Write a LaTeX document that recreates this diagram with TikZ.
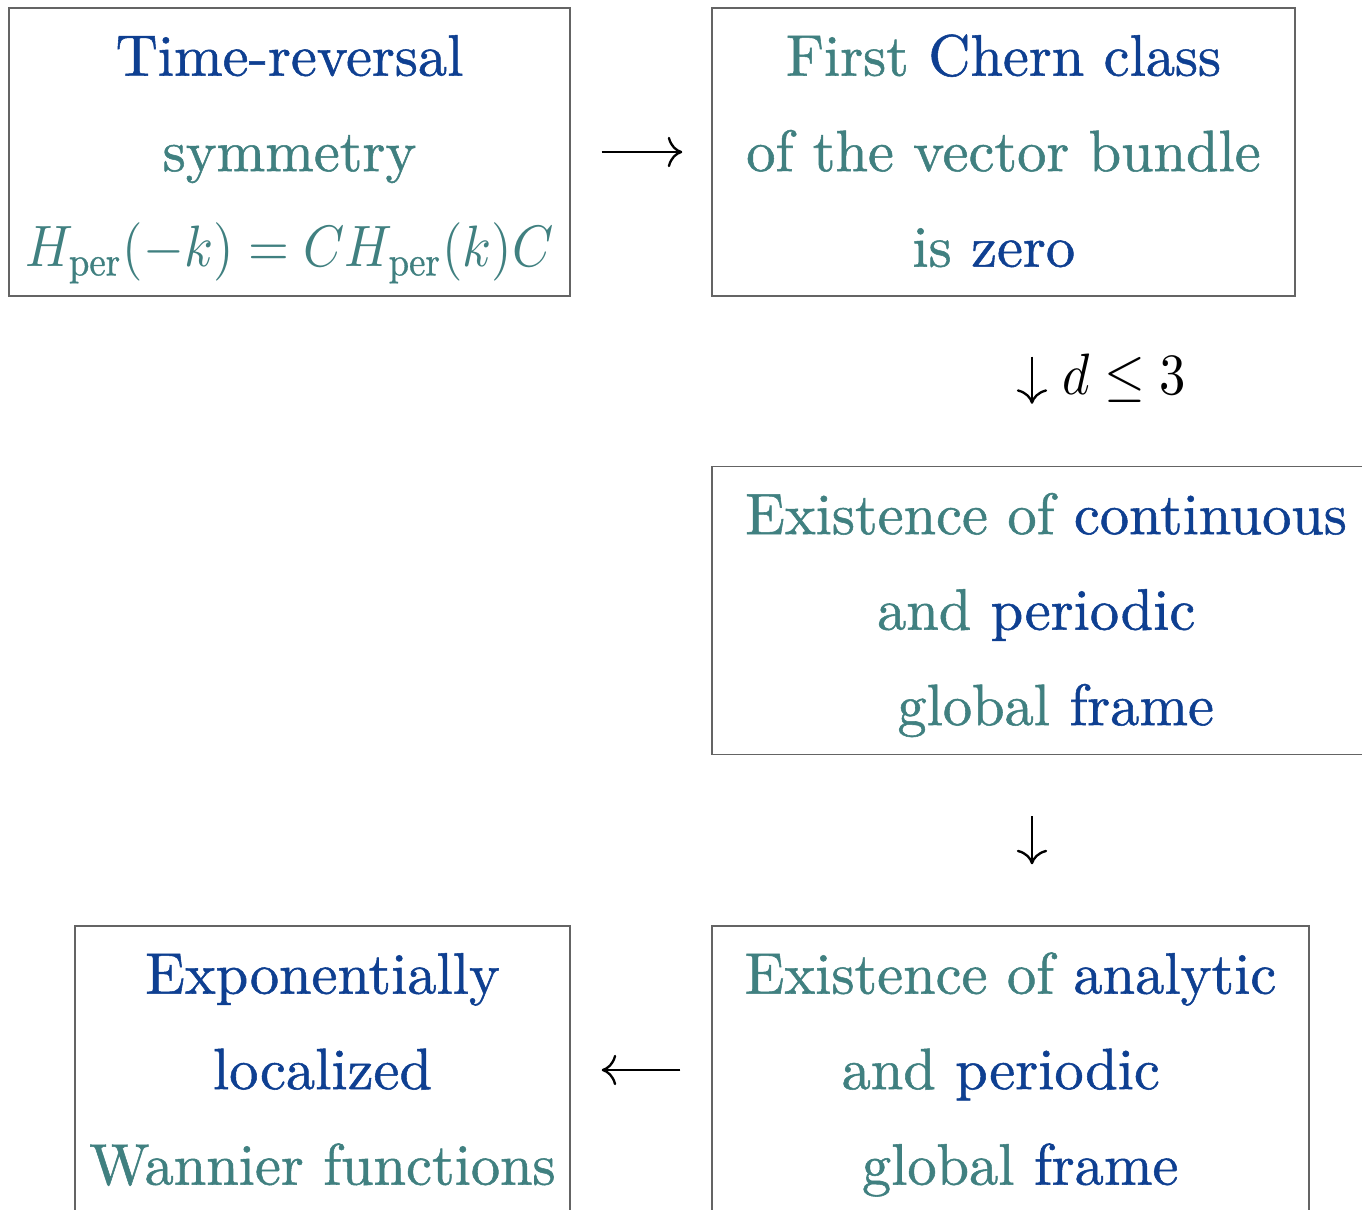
\documentclass[tikz,border=0pt]{standalone}
\usepackage{fontspec}
\setmainfont{lmroman10-regular.otf}[RawFeature={embolden=0.9}]
\usepackage{xcolor}
\usepackage{graphicx}
\usetikzlibrary{arrows.meta}
\definecolor{tealtxt}{RGB}{64,128,128}
\definecolor{bluetxt}{RGB}{14,63,145}
\definecolor{boxline}{RGB}{100,100,100}
\newcommand{\tcol}[1]{\textcolor{tealtxt}{#1}}
\newcommand{\bcol}[1]{\textcolor{bluetxt}{#1}}
\newcommand{\trailspace}{\ \mbox{}}
\newcommand{\narrowmath}[1]{\scalebox{0.9}[1]{#1}}
\renewcommand{\arraystretch}{1.3627}
\begin{document}
\begin{tikzpicture}[x=0.17123pt,y=-0.17123pt,
  statebox/.style={draw=boxline,line width=0.25pt,inner sep=0pt,minimum height=49.31pt},
  conn/.style={line width=0.4pt,-{Computer Modern Rightarrow}}]
\useasboundingbox (0,0) rectangle (1362,1209);
\clip (0,0) rectangle (1362,1209);
\node[statebox,minimum width=96.06pt] (b1) at (289.5,152) {\begin{tabular}{@{}c@{}}
  \bcol{Time-reversal}\\
  \tcol{symmetry}\\
  \tcol{\narrowmath{$H_{\mathrm{per}}(-k)=CH_{\mathrm{per}}(k)C$}}
\end{tabular}};
\node[statebox,minimum width=99.83pt] (b2) at (1003.5,152) {\begin{tabular}{@{}c@{}}
  \tcol{First} \bcol{Chern class}\\
  \tcol{of the vector bundle}\\
  \tcol{is} \bcol{zero}\trailspace
\end{tabular}};
\node[statebox,minimum width=114.38pt] (b3) at (1046,610.5) {\begin{tabular}{@{}c@{}}
  \tcol{Existence of} \bcol{continuous}\\
  \tcol{and} \bcol{periodic}\trailspace\\
  \mbox{}\ \tcol{global} \bcol{frame}
\end{tabular}};
\node[statebox,minimum width=102.22pt] (b4) at (1010.5,1070) {\begin{tabular}{@{}c@{}}
  \tcol{Existence of} \bcol{analytic}\\
  \tcol{and} \bcol{periodic}\trailspace\\
  \mbox{}\ \tcol{global} \bcol{frame}
\end{tabular}};
\node[statebox,minimum width=84.76pt] (b5) at (322.5,1070) {\begin{tabular}{@{}c@{}}
  \bcol{Exponentially}\\
  \bcol{localized}\\
  \tcol{Wannier functions}
\end{tabular}};
\coordinate (ax) at (1032,0);
\draw[conn,shorten <=5.31pt,shorten >=4.97pt] (b1.east) -- (b2.west);
\draw[conn,shorten <=10.27pt,shorten >=10.62pt] (b2.south -| ax) --
  node[pos=0.579,anchor=base west,inner sep=0pt,xshift=5pt] (lbl) {\narrowmath{$d\leq 3$}} (b3.north -| ax);
\draw[conn,shorten <=10.45pt,shorten >=10.45pt] (b3.south -| ax) -- (b4.north -| ax);
\draw[conn,shorten <=5.31pt,shorten >=5.31pt] (b4.west) -- (b5.east);
\end{tikzpicture}
\end{document}
